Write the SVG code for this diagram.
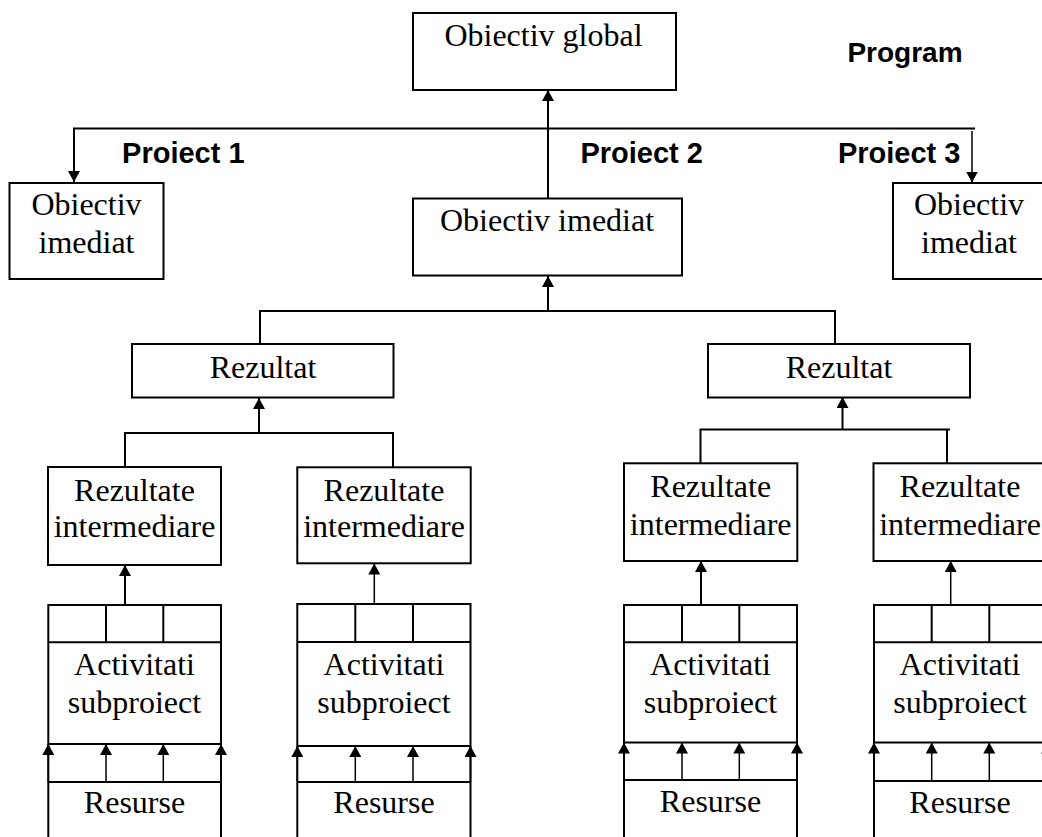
<svg xmlns="http://www.w3.org/2000/svg" width="1042" height="837" viewBox="0 0 1042 837">
<style>
.box{fill:#fff;stroke:#000;stroke-width:2}
.ln{fill:none;stroke:#000;stroke-width:2}
.th{fill:none;stroke:#000;stroke-width:1.5}
.t{font-family:"Liberation Serif","Times New Roman",serif;font-size:32px;fill:#000;text-anchor:middle}
.b{font-family:"Liberation Sans",Arial,sans-serif;font-size:29px;font-weight:bold;fill:#000;text-anchor:middle}
</style>
<defs>
<marker id="ah" viewBox="0 0 11 12" refX="11" refY="6" markerWidth="11" markerHeight="12" orient="auto" markerUnits="userSpaceOnUse">
<path d="M0,0 L11,6 L0,12 z" fill="#000"/>
</marker>
</defs>
<rect width="1042" height="837" fill="#fff"/>

<g id="connectors">
<!-- top level -->
<path class="ln" d="M975,128.5 H74 V182" marker-end="url(#ah)"/>
<path class="th" d="M972,131 V182.5" marker-end="url(#ah)"/>
<path class="ln" d="M548,198 V90" marker-end="url(#ah)"/>
<!-- second level -->
<path class="ln" d="M548,311 V276" marker-end="url(#ah)"/>
<path class="ln" d="M260,344 V311 H835 V344"/>
<path class="ln" d="M259,433 V398" marker-end="url(#ah)"/>
<path class="ln" d="M125,467 V433 H393 V467"/>
<path class="ln" d="M842.5,429.5 V397" marker-end="url(#ah)"/>
<path class="ln" d="M700.5,463 V429.5 H950"/>
<path class="ln" d="M947,429.5 V463"/>
<!-- activities to intermediate results -->
<path class="ln" d="M125,605 V565" marker-end="url(#ah)"/>
<path class="th" d="M374.3,604 V563.5" marker-end="url(#ah)"/>
<path class="ln" d="M701,605 V561" marker-end="url(#ah)"/>
<path class="th" d="M950.7,605 V561" marker-end="url(#ah)"/>
<!-- resources to activities: column A -->
<path class="th" d="M48.3,782 V744" marker-end="url(#ah)"/>
<path class="th" d="M106,782 V744" marker-end="url(#ah)"/>
<path class="th" d="M163.3,782 V744" marker-end="url(#ah)"/>
<path class="th" d="M221,782 V744" marker-end="url(#ah)"/>
<!-- column B -->
<path class="th" d="M297.3,782 V746" marker-end="url(#ah)"/>
<path class="th" d="M355.3,782 V746" marker-end="url(#ah)"/>
<path class="th" d="M413,782 V746" marker-end="url(#ah)"/>
<path class="th" d="M470.5,782 V746" marker-end="url(#ah)"/>
<!-- column C -->
<path class="th" d="M624,780 V742.5" marker-end="url(#ah)"/>
<path class="th" d="M682,780 V742.5" marker-end="url(#ah)"/>
<path class="th" d="M739.3,780 V742.5" marker-end="url(#ah)"/>
<path class="th" d="M797,780 V742.5" marker-end="url(#ah)"/>
<!-- column D -->
<path class="th" d="M874,781 V742.5" marker-end="url(#ah)"/>
<path class="th" d="M931.7,781 V742.5" marker-end="url(#ah)"/>
<path class="th" d="M989.3,781 V742.5" marker-end="url(#ah)"/>
<path class="th" d="M1047,781 V742.5" marker-end="url(#ah)"/>
</g>

<g id="labels">
<text class="b" x="905" y="62" font-size="28" style="font-size:28px">Program</text>
<text class="b" x="183.3" y="163">Proiect 1</text>
<text class="b" x="641.7" y="163">Proiect 2</text>
<text class="b" x="899.2" y="163">Proiect 3</text>
</g>

<g id="obiectiv-global">
<rect class="box" x="413" y="13" width="263" height="77"/>
<text class="t" x="543.5" y="46">Obiectiv global</text>
</g>

<g id="obiectiv-imediat-1">
<rect class="box" x="9.5" y="183" width="154" height="96"/>
<text class="t" x="86.5" y="215">Obiectiv</text>
<text class="t" x="86.5" y="253">imediat</text>
</g>

<g id="obiectiv-imediat-2">
<rect class="box" x="413" y="198.5" width="269" height="77"/>
<text class="t" x="547" y="231">Obiectiv imediat</text>
</g>

<g id="obiectiv-imediat-3">
<rect class="box" x="893" y="183" width="154" height="96"/>
<text class="t" x="969" y="215">Obiectiv</text>
<text class="t" x="969" y="253">imediat</text>
</g>

<g id="rezultat-1">
<rect class="box" x="132" y="344" width="261.5" height="53.5"/>
<text class="t" x="263" y="377.5">Rezultat</text>
</g>

<g id="rezultat-2">
<rect class="box" x="708" y="344" width="262" height="53.5"/>
<text class="t" x="839" y="377.5">Rezultat</text>
</g>

<g id="rezultate-intermediare-a">
<rect class="box" x="48" y="467" width="173" height="98"/>
<text class="t" x="134.5" y="501">Rezultate</text>
<text class="t" x="134.5" y="537">intermediare</text>
</g>
<g id="rezultate-intermediare-b">
<rect class="box" x="297.3" y="467.3" width="173.4" height="96"/>
<text class="t" x="384" y="501">Rezultate</text>
<text class="t" x="384" y="537">intermediare</text>
</g>
<g id="rezultate-intermediare-c">
<rect class="box" x="624" y="463.3" width="173.3" height="97.7"/>
<text class="t" x="710.7" y="497">Rezultate</text>
<text class="t" x="710.7" y="535">intermediare</text>
</g>
<g id="rezultate-intermediare-d">
<rect class="box" x="873.5" y="463.3" width="173.5" height="97.7"/>
<text class="t" x="960" y="497">Rezultate</text>
<text class="t" x="960" y="535">intermediare</text>
</g>

<g id="activitati-a">
<path class="ln" d="M48.3,850 V605 H221 V850 M48.3,642.3 H221 M106,605 V642.3 M163.3,605 V642.3 M48.3,744 H221 M48.3,782 H221"/>
<text class="t" x="134.5" y="675">Activitati</text>
<text class="t" x="134.5" y="713">subproiect</text>
</g>
<g id="resurse-a"><text class="t" x="134.5" y="813">Resurse</text></g>

<g id="activitati-b">
<path class="ln" d="M297.3,850 V604 H470.5 V850 M297.3,642 H470.5 M355.3,604 V642 M413,604 V642 M297.3,746 H470.5 M297.3,782 H470.5"/>
<text class="t" x="384" y="675">Activitati</text>
<text class="t" x="384" y="713">subproiect</text>
</g>
<g id="resurse-b"><text class="t" x="384" y="813">Resurse</text></g>

<g id="activitati-c">
<path class="ln" d="M624,850 V605 H797 V850 M624,642.3 H797 M682,605 V642.3 M739.3,605 V642.3 M624,742.5 H797 M624,780 H797"/>
<text class="t" x="710.5" y="675">Activitati</text>
<text class="t" x="710.5" y="713">subproiect</text>
</g>
<g id="resurse-c"><text class="t" x="710.5" y="812">Resurse</text></g>

<g id="activitati-d">
<path class="ln" d="M874,850 V605 H1047 V850 M874,642.3 H1047 M931.7,605 V642.3 M989.3,605 V642.3 M874,742.5 H1047 M874,781 H1047"/>
<text class="t" x="960" y="675">Activitati</text>
<text class="t" x="960" y="713">subproiect</text>
</g>
<g id="resurse-d"><text class="t" x="960" y="813">Resurse</text></g>
</svg>
